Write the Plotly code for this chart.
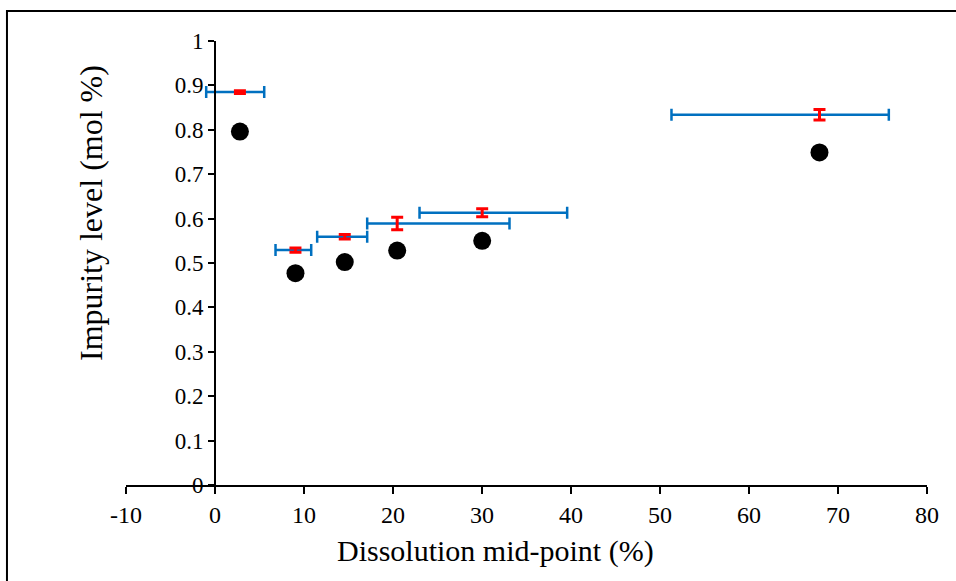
import plotly.graph_objects as go

# Data
x_mid = [2.8, 9.04, 14.58, 20.47, 30.02, 67.92]
impurity_points = [0.796, 0.477, 0.502, 0.528, 0.550, 0.749]
impurity_err_centre = [0.885, 0.529, 0.559, 0.589, 0.613, 0.834]
x_err_plus = [2.73, 1.77, 2.52, 12.62, 9.55, 7.79]
x_err_minus = [3.79, 2.24, 3.10, 3.37, 7.04, 16.63]
y_err = [0.003, 0.005, 0.005, 0.014, 0.009, 0.012]

x_ticks = [-10, 0, 10, 20, 30, 40, 50, 60, 70, 80]
y_ticks = [0, 0.1, 0.2, 0.3, 0.4, 0.5, 0.6, 0.7, 0.8, 0.9, 1]
y_tick_text = ["0", "0.1", "0.2", "0.3", "0.4", "0.5", "0.6", "0.7", "0.8", "0.9", "1"]

FONT = "Liberation Serif, Times New Roman, serif"

fig = go.Figure()

fig.add_trace(go.Scatter(
    x=x_mid, y=impurity_points, mode="markers",
    marker=dict(color="black", size=18),
    showlegend=False, cliponaxis=False,
))

# blue horizontal error bars
fig.add_trace(go.Scatter(
    x=x_mid, y=impurity_err_centre, mode="markers",
    marker=dict(size=1, color="rgba(0,0,0,0)"),
    error_x=dict(type="data", symmetric=False, array=x_err_plus,
                 arrayminus=x_err_minus, color="#0070C0",
                 thickness=2.5, width=6),
    showlegend=False, cliponaxis=False,
))

# red vertical error bars
fig.add_trace(go.Scatter(
    x=x_mid, y=impurity_err_centre, mode="markers",
    marker=dict(size=1, color="rgba(0,0,0,0)"),
    error_y=dict(type="data", array=y_err, color="#FF0000",
                 thickness=3, width=6),
    showlegend=False, cliponaxis=False,
))

fig.update_layout(
    width=956, height=581,
    margin=dict(l=126, r=29, t=41, b=96),
    paper_bgcolor="white", plot_bgcolor="white",
    font=dict(family=FONT, color="black"),
    xaxis=dict(
        range=[-10, 80], tickvals=x_ticks, ticktext=[str(v) for v in x_ticks],
        showgrid=False, zeroline=False,
        showline=True, linecolor="black", linewidth=2,
        ticks="outside", ticklen=7, tickwidth=2, tickcolor="black",
        tickfont=dict(size=24, family=FONT),
        anchor="y",
    ),
    yaxis=dict(
        range=[0, 1], tickvals=y_ticks, ticktext=y_tick_text,
        showgrid=False, zeroline=False,
        showline=True, linecolor="black", linewidth=2,
        ticks="outside", ticklen=6, tickwidth=2, tickcolor="black",
        tickfont=dict(size=23, family=FONT),
        anchor="free", position=10 / 90,
    ),
    annotations=[
        dict(text="Dissolution mid-point (%)", xref="paper", yref="paper",
             x=0.4607, y=-0.149, showarrow=False,
             font=dict(size=30, family=FONT, color="black"),
             xanchor="center", yanchor="middle"),
        dict(text="Impurity level (mol %)", xref="paper", yref="paper",
             x=-0.0437, y=0.6126, showarrow=False, textangle=-90,
             font=dict(size=32, family=FONT, color="black"),
             xanchor="center", yanchor="middle"),
    ],
    shapes=[
        dict(type="rect", xref="paper", yref="paper",
             x0=-0.1486, y0=-0.5, x1=1.5, y1=1.0676,
             line=dict(color="black", width=2), fillcolor="rgba(0,0,0,0)",
             layer="below"),
    ],
)

fig.write_html("out.html")
